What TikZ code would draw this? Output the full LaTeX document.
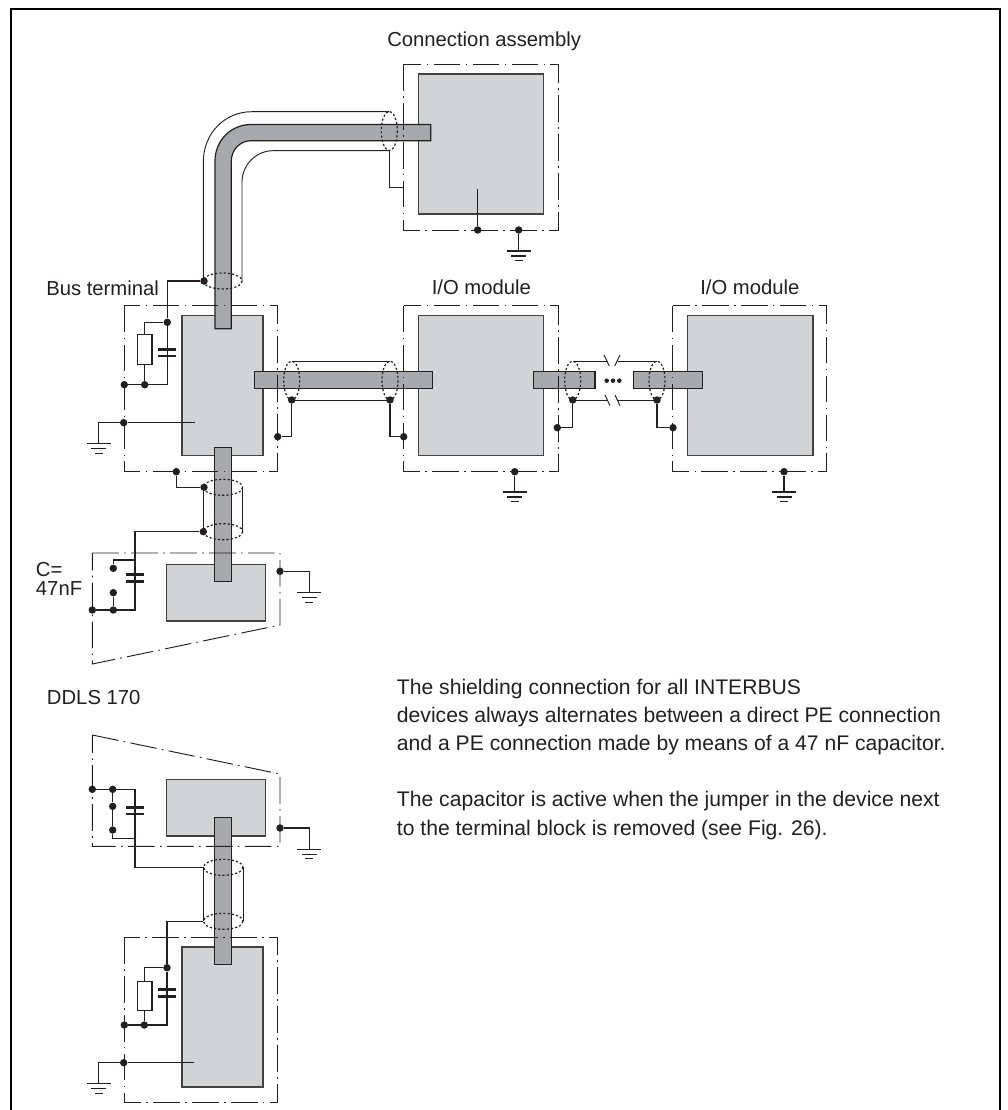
\documentclass[tikz,border=0pt]{standalone}
\usepackage{fontspec}
\setmainfont{Liberation Sans}
\definecolor{ink}{HTML}{231F20}
\definecolor{boxgrey}{HTML}{D1D3D4}
\definecolor{cablegrey}{HTML}{A7A9AC}
\tikzset{
  x=0.75pt,y=-0.75pt,
  wire/.style={draw=ink,line width=0.8pt,line join=miter},
  shieldline/.style={draw=ink,line width=0.7pt},
  housing/.style={draw=ink,line width=0.7pt,dash pattern=on 20pt off 4pt on 1.2pt off 4pt},
  device/.style={draw=ink!85,fill=boxgrey,line width=0.9pt},
  cable/.style={draw=ink,fill=cablegrey,line width=0.9pt},
  screen/.style={draw=ink,line width=0.9pt,dash pattern=on 1.6pt off 1.6pt},
  jdot/.style={circle,fill=ink,draw=none,inner sep=0pt,minimum size=5.6pt},
  plate/.style={draw=ink,line width=1.9pt},
  resist/.style={draw=ink,fill=white,line width=0.8pt},
  lab/.style={anchor=base west,inner sep=0pt,font=\fontsize{15.2pt}{21pt}\selectfont,text=ink},
  body/.style={anchor=base west,inner sep=0pt,font=\fontsize{15.85pt}{21pt}\selectfont,text=ink},
}
\newcommand{\earth}[2]{%
  \draw[wire] (#1-12,#2) -- (#1+12,#2);
  \draw[wire] (#1-7.5,#2+5) -- (#1+7.5,#2+5);
  \draw[wire] (#1-4,#2+9.5) -- (#1+4,#2+9.5);
}
\newcommand{\capac}[3]{% x, y1, y2
  \draw[plate] (#1-9,#2) -- (#1+9,#2);
  \draw[plate] (#1-9,#3) -- (#1+9,#3);
}
\begin{document}
\begin{tikzpicture}
\useasboundingbox (0,0) rectangle (1007,1110);
\fill[white] (0,0) rectangle (1007,1110);
% page frame
\draw[black,line width=1.6pt] (11,1110) -- (11,9) -- (1000,9) -- (1000,1110);

% device interiors
\draw[device] (418.7,74) rectangle (543.7,214);
\draw[device] (182,315.7) rectangle (263,455.7);
\draw[device] (418.7,315.7) rectangle (543.7,455.7);
\draw[device] (687.7,315.7) rectangle (813,455.7);
\draw[device] (166.3,564.3) rectangle (265.3,621);
\draw[device] (166.7,779.3) rectangle (265.3,836);
\draw[device] (182,947) rectangle (263,1087);

% cables
\draw[cable] (215,328.7) -- (215,161) .. controls (215,140.8) and (230.8,124.5) .. (251,124.5) -- (430.7,124.5) -- (430.7,140.7) -- (251,140.7) .. controls (240,140.7) and (231.3,150) .. (231.3,161) -- (231.3,328.7) -- cycle;
\draw[cable] (254.5,371.7) rectangle (432.3,388.2);
\draw[cable] (533.7,371.7) rectangle (595,388.2);
\draw[cable] (633.3,371.7) rectangle (702.7,388.2);
\draw[cable] (214.7,447.7) rectangle (231.3,581.3);
\draw[cable] (214.5,817.3) rectangle (231.5,964.3);

% housings (dash-dot)
\draw[housing] (403.7,64) rectangle (558,230);
\draw[housing] (124,305.7) rectangle (277.7,471.7);
\draw[housing] (403.7,305.7) rectangle (558,471.7);
\draw[housing] (672.8,305.7) rectangle (826.7,471.7);
\draw[housing] (92.3,553) -- (280,553) -- (280,625) -- (92.3,664) -- cycle;
\draw[housing] (92.3,735) -- (280,774) -- (280,846.3) -- (92.3,846.3) -- cycle;
\draw[housing] (124,937) rectangle (277.7,1102.7);

% cable screens
\draw[screen] (389.3,131) ellipse [x radius=8,y radius=19.6];
\draw[screen] (222.7,281) ellipse [x radius=19.5,y radius=8];
\draw[screen] (291.7,380.5) ellipse [x radius=8,y radius=19.5];
\draw[screen] (390,380.5) ellipse [x radius=8,y radius=19.5];
\draw[screen] (572.7,380.5) ellipse [x radius=8,y radius=19.5];
\draw[screen] (657,380.5) ellipse [x radius=8,y radius=19.5];
\draw[screen] (223,487.3) ellipse [x radius=19.7,y radius=8];
\draw[screen] (223,531.7) ellipse [x radius=19.7,y radius=8];
\draw[screen] (223.2,867.3) ellipse [x radius=19.8,y radius=8];
\draw[screen] (223.2,921.3) ellipse [x radius=19.8,y radius=8];

% shield lines
\draw[shieldline] (203.3,281) -- (203.3,162) .. controls (203.3,134) and (224,111.7) .. (252,111.7) -- (389.3,111.7);
\draw[shieldline] (242,281) -- (242,182) .. controls (242,165) and (256,150.7) .. (273,150.7) -- (389.3,150.7);
\draw[shieldline] (291.7,361) -- (390,361);
\draw[shieldline] (291.7,400) -- (390,400);
\draw[shieldline] (572.7,361) -- (607.3,361);
\draw[shieldline] (617.5,361) -- (657,361);
\draw[shieldline] (572.7,400) -- (607.5,400);
\draw[shieldline] (617.5,400) -- (657,400);
\draw[shieldline] (604,355) -- (609.3,366);
\draw[shieldline] (620,355) -- (614.7,366);
\draw[shieldline] (605,395) -- (610,405.7);
\draw[shieldline] (615,395) -- (620,405.7);
\draw[shieldline] (203.3,487.3) -- (203.3,531.7);
\draw[shieldline] (242.7,487.3) -- (242.7,531.7);
\draw[shieldline] (203.4,867.3) -- (203.4,921.3);
\draw[shieldline] (243,867.3) -- (243,921.3);

% junctions
\foreach \nm/\px/\py in {
  ca/477.7/230, cb/518.7/230,
  ba/204/281, bb/167.3/322.3, bc/144.7/384.7, bd/124.3/384.7, be/123.7/422.7,
  bf/176.3/471.7, bg/204/487.3, bh/277.7/436.7, bi/291.7/400, bj/390/400, bk/403.7/436.7,
  ma/514.7/471.7, mb/784/471.7,
  na/557.3/427.7, nb/572.7/400, nc/657/400, nd/673/427.7,
  da/203.3/531.7, db/113.3/568.3, dc/113.3/592.7, dd/113.3/610, de/92.3/610, df/280/571.3,
  ea/92.3/789.3, eb/112.7/789.3, ec/112.7/806.3, ed/112.7/830, ef/280/828,
  fa/167/967.7, fb/144.3/1025, fc/124.3/1025, fd/123.7/1062.7}
  {\node[jdot] (\nm) at (\px,\py) {};}

% named corners and free ends
\coordinate (cagnd) at (477.7,189);
\coordinate (cbgnd) at (518.7,251);
\coordinate (shtop) at (389.3,150.7);
\coordinate (shend) at (403.7,187.7);
\coordinate (bcap) at (167.3,384.7);
\coordinate (bin) at (194.7,422.7);
\coordinate (bgnd) at (98.7,443.7);
\coordinate (dcap) at (135,610);
\coordinate (dtop) at (135,560);
\coordinate (dgnd) at (309.3,592.7);
\coordinate (mag) at (514.7,492);
\coordinate (mbg) at (784,492);
\coordinate (ecap) at (135,789.3);
\coordinate (ecorn) at (112.7,838.3);
\coordinate (ejoin) at (135,838.3);
\coordinate (elow) at (203.4,867.3);
\coordinate (egnd) at (309.3,849.3);
\coordinate (flow) at (203.4,921.3);
\coordinate (fcap) at (167,1025);
\coordinate (fin) at (194.3,1062.7);
\coordinate (fgnd) at (98.7,1083.7);

% wires: connection assembly
\draw[wire] (cagnd) -- (ca);
\draw[wire] (cb) -- (cbgnd);
\draw[shieldline] (shtop) |- (shend);
\earth{518.7}{251}
% wires: bus terminal
\draw[wire] (ba) -| (bb);
\draw[wire] (bb) -- (bcap) -- (bd);
\draw[wire] (bb) -| (bc);
\draw[wire] (be) -- (bin);
\draw[wire] (be) -| (bgnd);
\earth{98.7}{443.7}
\draw[wire] (bf) |- (bg);
\draw[wire] (bh) -| (bi);
\draw[wire] (bj) |- (bk);
\capac{167.3}{349.3}{356}
\draw[resist] (137.7,334.7) rectangle (152,364.3);
% wires: I/O modules
\draw[wire] (ma) -- (mag);
\earth{514.7}{492}
\draw[wire] (mb) -- (mbg);
\earth{784}{492}
\draw[wire] (nb) |- (na);
\draw[wire] (nc) |- (nd);
% dots of the interrupted run
\foreach \nm/\px in {ga/606.7,gb/613,gc/619.3}
  {\node[jdot,minimum size=3.4pt] (\nm) at (\px,380.7) {};}
% wires: DDLS upper
\draw[wire] (da) -| (dcap) -- (de);
\draw[wire] (dtop) -| (db);
\draw[wire] (dc) -- (dd);
\capac{135}{574.3}{581.7}
\draw[wire] (df) -| (dgnd);
\earth{309.3}{592.7}
% wires: DDLS lower
\draw[wire] (ea) -- (ecap);
\draw[wire] (eb) -- (ec) -- (ed) -- (ecorn) -- (ejoin);
\draw[wire] (ecap) |- (elow);
\capac{135}{807.3}{814}
\draw[wire] (ef) -| (egnd);
\earth{309.3}{849.3}
% wires: bus terminal lower
\draw[wire] (flow) -| (fa);
\draw[wire] (fa) -- (fcap) -- (fc);
\draw[wire] (fa) -| (fb);
\capac{167}{989.3}{996.3}
\draw[resist] (137.7,981.3) rectangle (152,1010.7);
\draw[wire] (fd) -- (fin);
\draw[wire] (fd) -| (fgnd);
\earth{98.7}{1083.7}

% labels
\node[lab] (t1) at (387,46.7) {Connection assembly};
\node[lab] (t2) at (46,295.5) {Bus terminal};
\node[lab] (t3) at (431.5,294.3) {I/O module};
\node[lab] (t4) at (700,294.3) {I/O module};
\node[lab] (t5) at (35.7,576.7) {C=};
\node[lab] (t6) at (35.7,595.7) {47nF};
\node[lab] (t7) at (46.7,704) {DDLS 170};
\node[body] (t8) at (396.7,694) {The shielding connection for all INTERBUS};
\node[body] (t9) at (396.7,722.5) {devices always alternates between a direct PE connection};
\node[body] (t10) at (396.7,750.7) {and a PE connection made by means of a 47 nF capacitor.};
\node[body] (t11) at (396.7,806.7) {The capacitor is active when the jumper in the device next};
\node[body] (t12) at (396.7,835) {to the terminal block is removed (see Fig. 26).};
\end{tikzpicture}
\end{document}
